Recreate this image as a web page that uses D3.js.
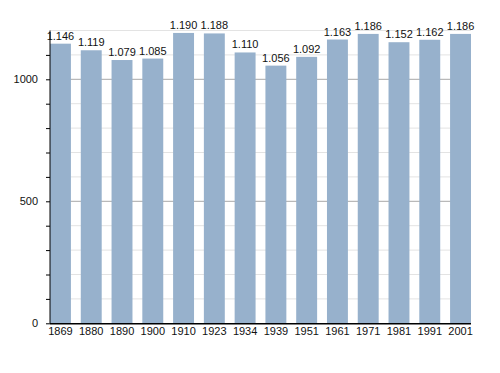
<!DOCTYPE html>
<html><head><meta charset="utf-8">
<script src="https://cdn.jsdelivr.net/npm/d3@7"></script>
<style>body{margin:0;background:#fff}text{font-family:"Liberation Sans",Arial,sans-serif}</style>
</head><body><svg id="c" width="500" height="373"></svg>
<script>
const years = ["1869","1880","1890","1900","1910","1923","1934","1939","1951","1961","1971","1981","1991","2001"];
const population = [1146,1119,1079,1085,1190,1188,1110,1056,1092,1163,1186,1152,1162,1186];
const valueLabels = ["1.146","1.119","1.079","1.085","1.190","1.188","1.110","1.056","1.092","1.163","1.186","1.152","1.162","1.186"];
const majorTicks = [0,500,1000];
const minorTicks = [100,200,300,400,600,700,800,900,1100,1200];

(function(){
const svg = d3.select("#c");
const mLeft = 50, mRight = 471, mTop = 30.5, mBottom = 323.3;
const x = d3.scaleBand().domain(years).range([mLeft, mRight]).paddingInner(0.32).paddingOuter(0);
const y = d3.scaleLinear().domain([0,1200]).range([mBottom, mTop]);

// grid
svg.append("g").selectAll("line").data(minorTicks).join("line")
  .attr("x1", mLeft).attr("x2", mRight).attr("y1", d=>y(d)).attr("y2", d=>y(d))
  .attr("stroke", "#e3e3e3").attr("stroke-width", 1);
svg.append("g").selectAll("line").data(majorTicks.slice(1)).join("line")
  .attr("x1", mLeft).attr("x2", mRight).attr("y1", d=>y(d)).attr("y2", d=>y(d))
  .attr("stroke", "#a8a8a8").attr("stroke-width", 1);

// bars
svg.append("g").selectAll("rect").data(population).join("rect")
  .attr("x", (d,i)=>x(years[i])).attr("width", x.bandwidth())
  .attr("y", d=>y(d)).attr("height", d=>mBottom - y(d))
  .attr("fill", "#97b1cc");

// value labels
svg.append("g").selectAll("text").data(population).join("text")
  .attr("x", (d,i)=>x(years[i]) + x.bandwidth()/2).attr("y", d=>y(d)-4)
  .attr("text-anchor","middle").attr("font-size", 11).attr("fill","#111")
  .text((d,i)=>valueLabels[i]);

// y axis
const ya = svg.append("g").attr("transform", `translate(${mLeft},0)`)
  .call(d3.axisLeft(y).tickValues(majorTicks.concat(minorTicks).filter(d=>d<1200)).tickSize(4).tickFormat(d=>majorTicks.includes(d)?d:""));
ya.select(".domain").attr("d", `M0,${y(1200)}V${mBottom}`).attr("stroke","#000");
ya.selectAll(".tick line").attr("stroke","#000");
ya.selectAll(".tick text").attr("font-size",11).attr("fill","#111").attr("x",-12).style("font-family",'"Liberation Sans",Arial,sans-serif');

// x axis
const xa = svg.append("g").attr("transform", `translate(0,${mBottom})`)
  .call(d3.axisBottom(x).tickSize(0).tickPadding(4));
xa.select(".domain").attr("d", `M${mLeft},0.5H${mRight}`).attr("stroke","#000").attr("stroke-width",1.5);
xa.selectAll(".tick text").attr("font-size",11).attr("fill","#111").style("font-family",'"Liberation Sans",Arial,sans-serif');
})();
</script></body></html>
